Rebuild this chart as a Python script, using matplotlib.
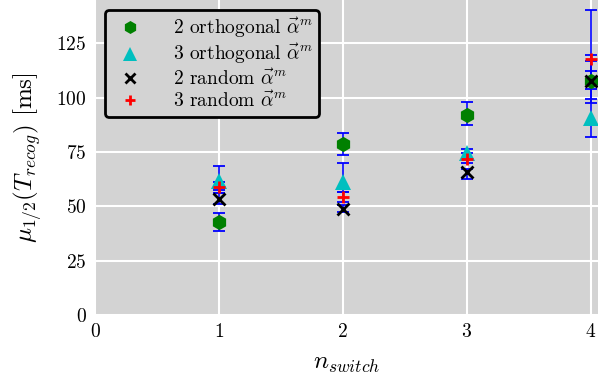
import matplotlib
matplotlib.use("Agg")
import matplotlib.pyplot as plt
import numpy as np

plt.rcParams["font.family"] = "serif"
plt.rcParams["font.serif"] = ["cmr10", "DejaVu Serif"]
plt.rcParams["mathtext.fontset"] = "cm"
plt.rcParams["axes.formatter.use_mathtext"] = True

n_switch = [1, 2, 3, 4]

labels = [r"2 orthogonal $\vec{\alpha}^m$",
          r"3 orthogonal $\vec{\alpha}^m$",
          r"2 random $\vec{\alpha}^m$",
          r"3 random $\vec{\alpha}^m$"]

# medians and their confidence bounds (ms)
orth2_med = [42.9, 78.6, 91.9, 107.9]
orth2_lo = [38.8, 73.8, 87.5, 104.1]
orth2_hi = [46.8, 83.9, 98.2, 112.2]

orth3_med = [61.7, 61.0, 74.8, 90.8]
orth3_lo = [57.5, 56.5, 72.0, 81.9]
orth3_hi = [68.8, 69.9, 76.2, 140.3]

rand2_med = [53.3, 49.0, 65.6, 107.9]
rand2_lo = [51.0, 47.2, 62.5, 97.7]
rand2_hi = [56.0, 50.5, 67.0, 116.8]

rand3_med = [58.8, 54.4, 72.0, 118.0]
rand3_lo = [56.0, 52.0, 70.0, 99.5]
rand3_hi = [61.0, 56.5, 74.5, 119.9]

series = [
    (orth2_med, orth2_lo, orth2_hi, dict(marker="h", color="green", ms=11, mew=0)),
    (orth3_med, orth3_lo, orth3_hi, dict(marker="^", color="c", ms=12, mew=0)),
    (rand2_med, rand2_lo, rand2_hi, dict(marker="x", color="black", ms=8, mew=2)),
    (rand3_med, rand3_lo, rand3_hi, dict(marker="+", color="red", ms=9, mew=2)),
]

fig = plt.figure(figsize=(5.98, 3.83), dpi=100)
ax = fig.add_axes([95 / 598, 68 / 383, 1 - 95 / 598, 1 - 68 / 383])
ax.set_facecolor("lightgrey")
ax.grid(True, color="white", linewidth=1.5, zorder=0)
ax.set_axisbelow(True)
for s in ax.spines.values():
    s.set_visible(False)

x = np.array(n_switch, dtype=float)
for med, lo, hi, style in series:
    med = np.array(med)
    yerr = [med - np.array(lo), np.array(hi) - med]
    ax.errorbar(x, med, yerr=yerr, fmt="none", ecolor="blue",
                elinewidth=1.2, capsize=4, capthick=1.3, zorder=2)

for (med, lo, hi, style), lab in zip(series, labels):
    ax.plot(x, med, linestyle="none", label=lab, zorder=3, **style)

ax.set_xlim(0, 4.06)
ax.set_ylim(0, 145)
ax.set_xticks([0, 1, 2, 3, 4])
ax.set_yticks([0, 25, 50, 75, 100, 125])
ax.tick_params(length=0, labelsize=14, pad=6)
ax.set_xlabel(r"$n_{switch}$", fontsize=18, labelpad=8)
ax.set_ylabel(r"$\mu_{1/2}(T_{recog})$ [ms]", fontsize=18, labelpad=8)

leg = ax.legend(loc="upper left", bbox_to_anchor=(0.0, 1.0), fontsize=14,
                frameon=True, fancybox=True, facecolor="lightgrey",
                edgecolor="black", framealpha=1.0, borderpad=0.3,
                labelspacing=0.1, handletextpad=1.2, markerscale=0.85)
leg.get_frame().set_linewidth(2)

fig.savefig("out.png", dpi=100)
